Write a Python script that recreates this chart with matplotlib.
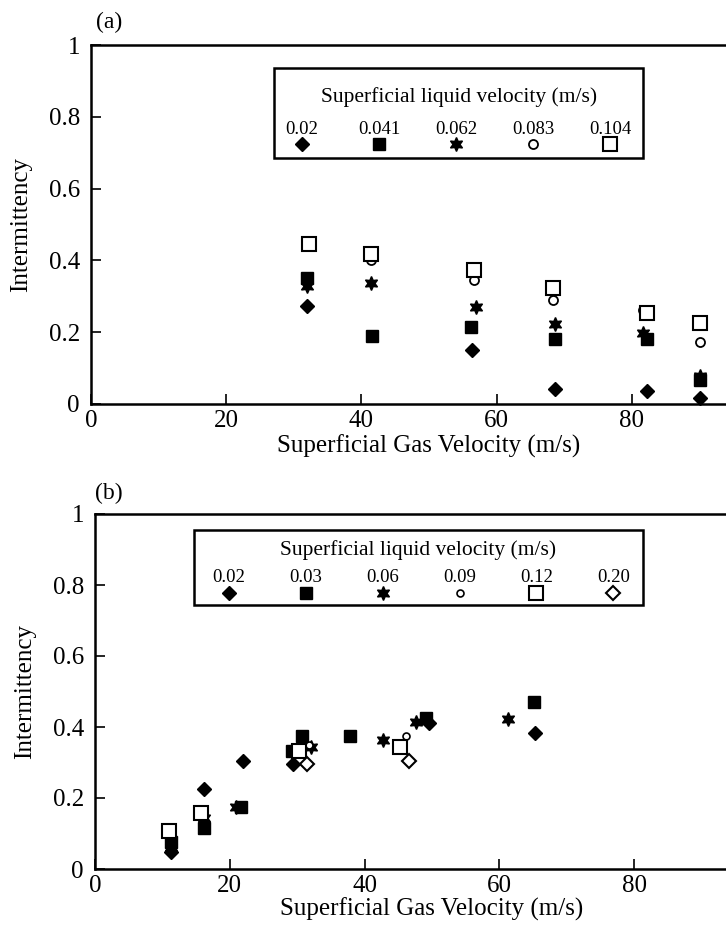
import matplotlib
matplotlib.use("Agg")
import matplotlib.pyplot as plt
from matplotlib.patches import Rectangle

plt.rcParams['font.family'] = ['Liberation Serif', 'DejaVu Serif']

# panel (a) data: superficial gas velocity vs intermittency
a_labels = ['0.02', '0.041', '0.062', '0.083', '0.104']
a_x_002 = [31.9, 56.4, 68.6, 82.3, 90.1]
a_y_002 = [0.274, 0.150, 0.042, 0.036, 0.016]
a_x_041 = [31.9, 41.6, 56.2, 68.6, 82.2, 90.1]
a_y_041 = [0.350, 0.190, 0.215, 0.180, 0.180, 0.067]
a_x_062 = [31.9, 41.4, 56.9, 68.6, 81.6, 90.1]
a_y_062 = [0.329, 0.338, 0.269, 0.223, 0.197, 0.078]
a_x_083 = [41.4, 56.6, 68.4, 81.6, 90.1]
a_y_083 = [0.401, 0.345, 0.290, 0.262, 0.174]
a_x_104 = [32.2, 41.4, 56.6, 68.4, 82.2, 90.1]
a_y_104 = [0.446, 0.418, 0.374, 0.322, 0.253, 0.225]

# panel (b) data
b_labels = ['0.02', '0.03', '0.06', '0.09', '0.12', '0.20']
b_x_002 = [11.3, 16.2, 21.9, 29.4, 49.5, 65.3]
b_y_002 = [0.048, 0.224, 0.304, 0.295, 0.410, 0.382]
b_x_003 = [11.3, 16.1, 21.7, 29.3, 30.7, 37.8, 49.1, 65.2]
b_y_003 = [0.075, 0.115, 0.176, 0.332, 0.375, 0.375, 0.424, 0.470]
b_x_006 = [11.3, 16.1, 20.9, 32.0, 42.7, 47.6, 61.3]
b_y_006 = [0.062, 0.143, 0.176, 0.345, 0.363, 0.415, 0.422]
b_x_009 = [31.7, 46.2]
b_y_009 = [0.350, 0.375]
b_x_012 = [11.0, 15.7, 30.2, 45.2]
b_y_012 = [0.107, 0.157, 0.333, 0.345]
b_x_020 = [31.4, 46.6]
b_y_020 = [0.295, 0.304]

STAR = (6, 1, 0)
a_styles = [
    dict(marker='D', ms=7, mfc='black', mec='black'),
    dict(marker='s', ms=9, mfc='black', mec='black'),
    dict(marker=STAR, ms=10, mfc='black', mec='black'),
    dict(marker='o', ms=6.5, mfc='white', mec='black', mew=1.3),
    dict(marker='s', ms=9.5, mfc='white', mec='black', mew=1.5),
]
b_styles = [
    dict(marker='D', ms=7, mfc='black', mec='black'),
    dict(marker='s', ms=9, mfc='black', mec='black'),
    dict(marker=STAR, ms=10, mfc='black', mec='black'),
    dict(marker='o', ms=5, mfc='white', mec='black', mew=1.2),
    dict(marker='s', ms=9.5, mfc='white', mec='black', mew=1.5),
    dict(marker='D', ms=7.5, mfc='white', mec='black', mew=1.5),
]

W, H = 726, 926
fig = plt.figure(figsize=(W / 100, H / 100), dpi=100)


def px_axes(left, bottom, width, height):
    return fig.add_axes([left / W, (H - bottom) / H, width / W, height / H])


def style_axes(ax):
    ax.set_xlim(0, 100)
    ax.set_ylim(0, 1)
    ax.set_xticks([0, 20, 40, 60, 80])
    ax.set_yticks([0, 0.2, 0.4, 0.6, 0.8, 1])
    ax.set_yticklabels(['0', '0.2', '0.4', '0.6', '0.8', '1'])
    ax.tick_params(direction='in', length=7, width=1.2, labelsize=18)
    ax.tick_params(axis='y', pad=8)
    ax.tick_params(axis='x', pad=4)
    for s in ax.spines.values():
        s.set_linewidth(1.8)
    ax.set_ylabel('Intermittency', fontsize=18, labelpad=12)


def draw_legend(ax, labels, styles, box, title_y, label_y, marker_y, x0, dx):
    ax.add_patch(Rectangle((box[0], box[1]), box[2] - box[0], box[3] - box[1],
                           transform=ax.transAxes, fill=False, lw=1.8,
                           ec='black', clip_on=False, zorder=5))
    ax.text((box[0] + box[2]) / 2, title_y, 'Superficial liquid velocity (m/s)',
            transform=ax.transAxes, ha='center', va='center', fontsize=15.5)
    for i, (lab, st) in enumerate(zip(labels, styles)):
        xx = x0 + i * dx
        ax.text(xx, label_y, lab, transform=ax.transAxes, ha='center',
                va='center', fontsize=13.5)
        ax.plot([xx], [marker_y], transform=ax.transAxes, ls='none',
                clip_on=False, **st)


# (a)
ax1 = px_axes(91, 404, 676, 359)
style_axes(ax1)
ax1.set_xlabel('Superficial Gas Velocity (m/s)', fontsize=18, labelpad=2)
a_series = [(a_x_002, a_y_002), (a_x_041, a_y_041), (a_x_062, a_y_062),
            (a_x_083, a_y_083), (a_x_104, a_y_104)]
for (xs, ys), st in zip(a_series, a_styles):
    ax1.plot(xs, ys, ls='none', clip_on=False, **st)
draw_legend(ax1, a_labels, a_styles, (0.271, 0.685, 0.817, 0.936),
            0.855, 0.766, 0.724, 0.312, 0.114)
fig.text(109 / W, 1 - 22 / H, '(a)', ha='center', va='center', fontsize=17)

# (b)
ax2 = px_axes(95, 869, 674, 355)
style_axes(ax2)
ax2.set_xlabel('Superficial Gas Velocity (m/s)', fontsize=18, labelpad=1)
b_series = [(b_x_002, b_y_002), (b_x_003, b_y_003), (b_x_006, b_y_006),
            (b_x_009, b_y_009), (b_x_012, b_y_012), (b_x_020, b_y_020)]
for (xs, ys), st in zip(b_series, b_styles):
    ax2.plot(xs, ys, ls='none', clip_on=False, **st)
draw_legend(ax2, b_labels, b_styles, (0.147, 0.744, 0.813, 0.955),
            0.899, 0.820, 0.777, 0.199, 0.114)
fig.text(109 / W, 1 - 493 / H, '(b)', ha='center', va='center', fontsize=17)

fig.savefig('out.png', dpi=100)
